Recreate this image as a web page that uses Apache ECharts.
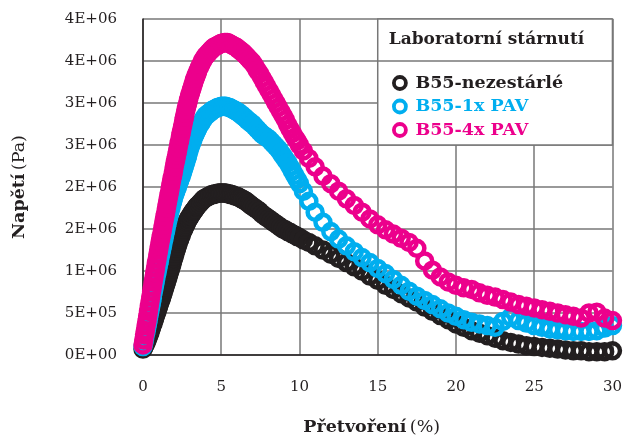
<!DOCTYPE html>
<html><head><meta charset="utf-8">
<script src="https://cdn.jsdelivr.net/npm/echarts@6/dist/echarts.min.js"></script>
<style>html,body{margin:0;padding:0;background:#fff}#c{width:625px;height:441px}</style>
</head><body><div id="c"></div>
<script>
// Strain (%) shared by all three tests
const strain = [
  0,0.05,0.1,0.15,0.2,0.25,0.3,0.35,0.4,0.45,
  0.5,0.55,0.6,0.65,0.7,0.75,0.8,0.85,0.9,0.95,
  1,1.05,1.1,1.15,1.2,1.25,1.3,1.35,1.4,1.45,
  1.5,1.55,1.6,1.65,1.7,1.75,1.8,1.85,1.9,1.95,
  2,2.05,2.1,2.15,2.2,2.25,2.3,2.35,2.4,2.45,
  2.5,2.55,2.6,2.65,2.7,2.75,2.8,2.85,2.9,2.95,
  3,3.05,3.1,3.15,3.2,3.25,3.3,3.35,3.4,3.45,
  3.5,
  3.6,3.7,3.8,3.9,4, 4.1,4.2,4.3,4.4,4.5, 4.6,4.7,4.8,4.9,5, 5.1,5.2,5.3,5.4,5.5, 5.6,5.7,5.8,5.9,6, 6.1,6.2,6.3,6.4,6.5, 6.6,6.7,6.8,6.9,7,
  7.15,7.3,7.45,7.6,7.75,7.9,8.05,8.2,8.35,8.5, 8.65,8.8,8.95,9.1,9.25,9.4,9.55,9.7,9.85,10,
  10.25,10.6,11,11.5,12,12.5,13,13.5,14,
  14.5,15,15.5,16,16.5,17,17.5,18,18.5,19, 19.5,20,20.5,21,21.5,22,22.5,23,23.5,24, 24.5,25,25.5,26,26.5,27,27.5,28,28.5,29, 29.5,30
];
// Stress in MPa (converted to Pa below)
const stressUnaged = [
  0.07,0.09,0.11,0.13,0.15,0.17,0.20,0.22,0.25,0.27,
  0.30,0.33,0.36,0.38,0.41,0.44,0.47,0.50,0.52,0.55,
  0.58,0.61,0.64,0.66,0.69,0.72,0.75,0.78,0.81,0.84,
  0.87,0.90,0.93,0.96,0.99,1.02,1.05,1.08,1.12,1.15,
  1.18,1.21,1.24,1.27,1.30,1.33,1.36,1.38,1.41,1.43,
  1.46,1.48,1.50,1.52,1.54,1.56,1.58,1.60,1.62,1.63,
  1.65,1.66,1.68,1.69,1.71,1.72,1.73,1.74,1.76,1.77,
  1.78,
  1.80,1.82,1.84,1.86,1.87, 1.88,1.89,1.90,1.91,1.91, 1.92,1.92,1.93,1.93,1.93, 1.93,1.93,1.93,1.92,1.92, 1.91,1.91,1.90,1.89,1.89, 1.88,1.87,1.86,1.85,1.84, 1.83,1.81,1.80,1.78,1.77,
  1.75,1.73,1.71,1.68,1.66,1.64,1.62,1.60,1.58,1.56, 1.54,1.52,1.50,1.49,1.47,1.46,1.44,1.43,1.41,1.40,
  1.37,1.34,1.30,1.25,1.20,1.15,1.10,1.05,1.00,
  0.94,0.89,0.83,0.78,0.73,0.68,0.63,0.57,0.52,0.47, 0.42,0.37,0.33,0.29,0.26,0.23,0.20,0.17,0.15,0.13, 0.11,0.10,0.09,0.08,0.07,0.06,0.05,0.05,0.04,0.04, 0.04,0.05
];
const stress1xPAV = [
  0.10,0.14,0.19,0.24,0.28,0.33,0.38,0.43,0.48,0.53,
  0.58,0.63,0.68,0.74,0.79,0.84,0.89,0.94,0.98,1.03,
  1.08,1.12,1.17,1.21,1.26,1.30,1.35,1.39,1.44,1.48,
  1.53,1.57,1.61,1.65,1.69,1.73,1.76,1.80,1.83,1.87,
  1.90,1.93,1.95,1.98,2.00,2.03,2.06,2.08,2.11,2.13,
  2.16,2.19,2.22,2.25,2.28,2.31,2.34,2.37,2.41,2.44,
  2.47,2.50,2.52,2.55,2.57,2.60,2.62,2.64,2.66,2.68,
  2.70,
  2.73,2.76,2.79,2.82,2.85, 2.86,2.88,2.89,2.91,2.92, 2.93,2.94,2.95,2.95,2.96, 2.96,2.96,2.96,2.95,2.95, 2.94,2.93,2.92,2.91,2.90, 2.89,2.87,2.86,2.84,2.83, 2.81,2.79,2.78,2.76,2.75,
  2.72,2.69,2.66,2.63,2.61,2.59,2.57,2.54,2.51,2.48, 2.45,2.41,2.37,2.33,2.29,2.24,2.19,2.14,2.09,2.04,
  1.95,1.83,1.70,1.58,1.47,1.38,1.30,1.23,1.16,
  1.10,1.03,0.97,0.90,0.83,0.76,0.70,0.65,0.60,0.55, 0.50,0.46,0.42,0.39,0.37,0.35,0.33,0.40,0.45,0.41, 0.38,0.35,0.33,0.31,0.30,0.29,0.28,0.28,0.28,0.29, 0.32,0.35
];
const stress4xPAV = [
  0.12,0.18,0.24,0.29,0.35,0.40,0.46,0.52,0.58,0.64,
  0.70,0.76,0.81,0.87,0.92,0.98,1.03,1.09,1.14,1.20,
  1.25,1.30,1.35,1.40,1.45,1.50,1.55,1.60,1.65,1.70,
  1.75,1.80,1.85,1.90,1.95,2.00,2.05,2.10,2.14,2.19,
  2.24,2.29,2.33,2.38,2.42,2.47,2.52,2.56,2.61,2.65,
  2.70,2.74,2.79,2.83,2.88,2.92,2.96,2.99,3.03,3.07,
  3.10,3.13,3.16,3.19,3.22,3.25,3.28,3.30,3.33,3.35,
  3.38,
  3.42,3.46,3.50,3.53,3.56, 3.58,3.60,3.62,3.64,3.66, 3.67,3.68,3.69,3.70,3.71, 3.71,3.72,3.72,3.72,3.71, 3.70,3.69,3.68,3.67,3.66, 3.64,3.63,3.61,3.60,3.58, 3.56,3.54,3.52,3.50,3.48,
  3.44,3.39,3.35,3.30,3.25,3.20,3.15,3.10,3.05,3.00, 2.95,2.90,2.85,2.80,2.74,2.69,2.64,2.59,2.55,2.50,
  2.43,2.34,2.24,2.13,2.04,1.95,1.86,1.78,1.70,
  1.62,1.55,1.49,1.44,1.39,1.34,1.27,1.12,1.01,0.93, 0.87,0.83,0.80,0.78,0.74,0.71,0.69,0.66,0.63,0.60, 0.58,0.56,0.54,0.52,0.50,0.48,0.46,0.44,0.50,0.51, 0.44,0.41
];
const seriesNames = ['B55-nezestárlé', 'B55-1x PAV', 'B55-4x PAV'];
const seriesColors = ['#231f20', '#00aeef', '#ec008c'];
const seriesStress = [stressUnaged, stress1xPAV, stress4xPAV];
const xTickLabels = ['0','5','10','15','20','25','30'];
const yTickLabels = ['0E+00','5E+05','1E+06','2E+06','2E+06','3E+06','3E+06','4E+06','4E+06'];
const legendTitle = 'Laboratorní stárnutí';

const FONT = 'DejaVu Serif';
const GRIDC = '#777777';
const chart = echarts.init(document.getElementById('c'), null, {renderer: 'canvas'});

const series = seriesNames.map((n, k) => ({
  type: 'scatter',
  name: n,
  data: strain.map((x, i) => [x, seriesStress[k][i] * 1e6]),
  symbol: 'circle',
  symbolSize: 15,
  itemStyle: {color: 'rgba(0,0,0,0)', borderColor: seriesColors[k], borderWidth: 4.5, opacity: 1},
  emphasis: {disabled: true},
  z: 2 + k
}));

chart.setOption({
  animation: false,
  backgroundColor: '#fff',
  grid: {left: 143, right: 5, top: 19, bottom: 78, containLabel: false},
  xAxis: {
    type: 'value', min: 0, max: 30, interval: 5,
    axisLine: {show: true, onZero: false, lineStyle: {color: '#231f20', width: 1.5}},
    axisTick: {show: false},
    splitLine: {show: true, lineStyle: {color: GRIDC, width: 1.5}},
    axisLabel: {margin: 25, fontFamily: FONT, fontSize: 15, color: '#231f20',
      formatter: (v, i) => xTickLabels[i]},
    name: '{b|Přetvoření} {n|(%)}',
    nameLocation: 'middle', nameGap: 63,
    nameTextStyle: {padding: [0, 12, 0, 0], rich: {
      b: {fontFamily: FONT, fontSize: 17.5, fontWeight: 'bold', color: '#231f20'},
      n: {fontFamily: FONT, fontSize: 17.5, color: '#231f20'}}}
  },
  yAxis: {
    type: 'value', min: 0, max: 4e6, interval: 5e5,
    axisLine: {show: true, lineStyle: {color: '#231f20', width: 1.5}},
    axisTick: {show: false},
    splitLine: {show: true, lineStyle: {color: GRIDC, width: 1.5}},
    axisLabel: {margin: 26, fontFamily: FONT, fontSize: 15, color: '#231f20',
      formatter: (v, i) => yTickLabels[i]},
    name: '{b|Napětí} {n|(Pa)}',
    nameLocation: 'middle', nameGap: 115, nameRotate: 90,
    nameTextStyle: {rich: {
      b: {fontFamily: FONT, fontSize: 17.5, fontWeight: 'bold', color: '#231f20'},
      n: {fontFamily: FONT, fontSize: 17.5, color: '#231f20'}}}
  },
  legend: {
    orient: 'vertical', left: 392, top: 73, padding: 0,
    itemWidth: 21, itemHeight: 12, itemGap: 3.5, z: 20,
    icon: 'circle',
    selectedMode: false,
    data: seriesNames.map((n, k) => ({
      name: n,
      itemStyle: {color: 'rgba(0,0,0,0)', borderColor: seriesColors[k], borderWidth: 3.8},
      textStyle: {color: seriesColors[k]}
    })),
    textStyle: {fontFamily: FONT, fontSize: 17.5, fontWeight: 'bold', lineHeight: 20}
  },
  series: series
});

// legend frame aligned to the axis scale (x 15..30, y 2.5e6..4e6, separator at 3.5e6)
const p1 = chart.convertToPixel({gridIndex: 0}, [15, 4e6]);
const p2 = chart.convertToPixel({gridIndex: 0}, [30, 2.5e6]);
const pSep = chart.convertToPixel({gridIndex: 0}, [15, 3.5e6]);
chart.setOption({
  graphic: [
    {type: 'rect', z: 10, shape: {x: p1[0], y: p1[1], width: p2[0] - p1[0], height: p2[1] - p1[1]},
      style: {fill: '#fff', stroke: GRIDC, lineWidth: 1.5}},
    {type: 'line', z: 11, shape: {x1: p1[0], y1: pSep[1], x2: p2[0], y2: pSep[1]},
      style: {stroke: GRIDC, lineWidth: 1.5}},
    {type: 'text', z: 12, x: p1[0] + 11, y: (p1[1] + pSep[1]) / 2,
      style: {text: legendTitle, fontFamily: FONT, fontSize: 17, fontWeight: 'bold', fill: '#231f20',
        align: 'left', verticalAlign: 'middle'}}
  ]
});
</script></body></html>
